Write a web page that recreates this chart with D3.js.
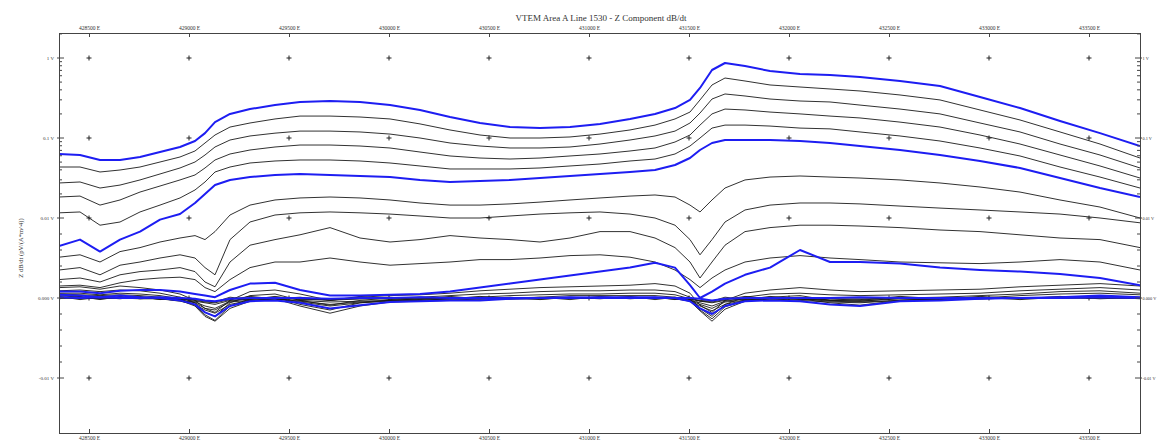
<!DOCTYPE html>
<meta charset="utf-8">
<style>
body { margin: 0; background: #fff; }
svg text { font-family: "Liberation Serif", "DejaVu Serif", serif; fill: #333; }
.frame { fill: none; stroke: #444; stroke-width: 1; }
.tick line, .ytick { stroke: #444; }
.ch { fill: none; stroke-linejoin: round; }
</style>
<svg width="1157" height="442"></svg>
<script src="https://d3js.org/d3.v7.min.js"></script>
<script>
// easting of each reading along the line (m)
var eastings = [428350,428455,428555,428655,428755,428855,428955,429030,429080,429130,429205,429305,429430,429555,429705,429855,430005,430155,430305,430455,430605,430755,430905,431055,431205,431330,431430,431505,431555,431615,431680,431780,431905,432055,432205,432355,432555,432755,432955,433155,433355,433555,433755];

var xTicks = [428500,429000,429500,430000,430500,431000,431500,432000,432500,433000,433500];
var yTicks = [1, 0.1, 0.01, 0, -0.01];
var yTickLabels = ["1 V", "0.1 V", "0.01 V", "0.000 V", "-0.01 V"];

// dB/dt decay channels, early to late
var ch0 = [0.0631,0.0613,0.0531,0.0531,0.0579,0.0668,0.0772,0.0917,0.115,0.158,0.200,0.230,0.258,0.282,0.290,0.282,0.258,0.224,0.183,0.154,0.137,0.133,0.137,0.150,0.173,0.200,0.237,0.299,0.422,0.708,0.866,0.794,0.688,0.631,0.613,0.579,0.516,0.447,0.325,0.237,0.163,0.115,0.0794];
var ch1 = [0.0434,0.0434,0.0376,0.0398,0.0434,0.0501,0.0579,0.0688,0.0866,0.109,0.137,0.154,0.173,0.188,0.188,0.183,0.173,0.150,0.126,0.109,0.100,0.100,0.103,0.112,0.126,0.145,0.173,0.211,0.299,0.460,0.562,0.516,0.460,0.434,0.410,0.387,0.345,0.299,0.224,0.168,0.119,0.0841,0.0562];
var ch2 = [0.0274,0.0282,0.0237,0.0258,0.0299,0.0355,0.0422,0.0501,0.0613,0.0772,0.0944,0.106,0.115,0.122,0.122,0.119,0.112,0.100,0.0866,0.0794,0.0750,0.0750,0.0772,0.0841,0.0944,0.106,0.122,0.154,0.205,0.307,0.355,0.335,0.307,0.290,0.282,0.258,0.230,0.200,0.154,0.119,0.0841,0.0613,0.0422];
var ch3 = [0.0183,0.0188,0.0145,0.0168,0.0211,0.0251,0.0299,0.0345,0.0422,0.0531,0.0631,0.0708,0.0772,0.0817,0.0817,0.0794,0.0750,0.0668,0.0596,0.0562,0.0546,0.0562,0.0596,0.0631,0.0688,0.0750,0.0891,0.109,0.145,0.200,0.230,0.224,0.211,0.200,0.188,0.178,0.158,0.137,0.109,0.0841,0.0613,0.0447,0.0316];
var ch4 = [0.0116,0.0119,0.0091,0.0095,0.0119,0.0145,0.0178,0.0224,0.0282,0.0376,0.0434,0.0487,0.0516,0.0531,0.0531,0.0516,0.0487,0.0447,0.0410,0.0410,0.0410,0.0422,0.0447,0.0473,0.0516,0.0546,0.0631,0.0794,0.100,0.133,0.145,0.145,0.141,0.133,0.130,0.119,0.106,0.0917,0.0750,0.0596,0.0434,0.0325,0.0237];
var ch5 = [0.0065,0.0073,0.0058,0.0073,0.0083,0.0098,0.0112,0.0154,0.0200,0.0258,0.0299,0.0325,0.0345,0.0355,0.0345,0.0335,0.0325,0.0299,0.0282,0.0290,0.0299,0.0316,0.0335,0.0355,0.0376,0.0398,0.0460,0.0562,0.0708,0.0866,0.0944,0.0944,0.0944,0.0917,0.0866,0.0794,0.0708,0.0613,0.0516,0.0422,0.0316,0.0237,0.0183];
var ch6 = [0.0051,0.0054,0.0045,0.0058,0.0063,0.0070,0.0075,0.0078,0.0073,0.0083,0.0109,0.0145,0.0168,0.0178,0.0183,0.0178,0.0168,0.0154,0.0145,0.0145,0.0150,0.0158,0.0168,0.0178,0.0188,0.0194,0.0183,0.0145,0.0119,0.0168,0.0237,0.0299,0.0325,0.0335,0.0325,0.0316,0.0299,0.0274,0.0244,0.0211,0.0168,0.0137,0.0100];
var ch7 = [0.0035,0.0038,0.0029,0.0041,0.0045,0.0050,0.0054,0.0050,0.0038,0.0029,0.0073,0.0095,0.0109,0.0116,0.0119,0.0116,0.0112,0.0106,0.0100,0.0100,0.0106,0.0112,0.0116,0.0119,0.0112,0.0100,0.0091,0.0073,0.0054,0.0073,0.0095,0.0126,0.0145,0.0154,0.0154,0.0150,0.0141,0.0133,0.0126,0.0119,0.0112,0.0100,0.0094];
var ch8 = [0.0023,0.0025,0.0020,0.0029,0.0033,0.0035,0.0038,0.0033,0.0020,0.0014,0.0045,0.0066,0.0073,0.0079,0.0088,0.0075,0.0070,0.0073,0.0078,0.0075,0.0073,0.0070,0.0075,0.0083,0.0083,0.0075,0.0063,0.0045,0.0025,0.0045,0.0066,0.0083,0.0088,0.0091,0.0091,0.0090,0.0088,0.0085,0.0083,0.0079,0.0075,0.0073,0.0063];
var ch9 = [0.0015,0.0016,0.0013,0.0019,0.0023,0.0025,0.0026,0.0023,0.0013,0.0008,0.0023,0.0038,0.0045,0.0045,0.0050,0.0045,0.0041,0.0043,0.0045,0.0048,0.0048,0.0050,0.0053,0.0054,0.0051,0.0045,0.0035,0.0023,0.0013,0.0025,0.0035,0.0045,0.0050,0.0053,0.0050,0.0048,0.0045,0.0044,0.0043,0.0045,0.0048,0.0045,0.0035];
var ch10 = [0.0008,0.0008,0.0006,0.0009,0.0010,0.0010,0.0008,0.0005,0.0003,0.0001,0.0010,0.0018,0.0019,0.0010,0.0003,0.0003,0.0004,0.0005,0.0008,0.0013,0.0018,0.0023,0.0028,0.0033,0.0038,0.0044,0.0038,0.0016,0.0000,0.0008,0.0018,0.0029,0.0038,0.0060,0.0045,0.0045,0.0043,0.0038,0.0035,0.0033,0.0030,0.0025,0.0016];
var ch11 = [0.0013,0.0014,0.0011,0.0015,0.0013,0.0010,0.0005,-0.0003,-0.0013,-0.0018,-0.0003,0.0008,0.0010,0.0005,-0.0003,0.0001,0.0003,0.0004,0.0006,0.0009,0.0011,0.0013,0.0014,0.0015,0.0016,0.0018,0.0015,0.0006,-0.0009,-0.0018,-0.0003,0.0006,0.0010,0.0013,0.0010,0.0008,0.0009,0.0010,0.0011,0.0014,0.0016,0.0018,0.0015];
var ch12 = [0.0009,0.0010,0.0008,0.0010,0.0009,0.0006,0.0001,-0.0006,-0.0018,-0.0023,-0.0006,0.0003,0.0005,-0.0003,-0.0009,-0.0003,0.0000,0.0001,0.0003,0.0005,0.0006,0.0008,0.0009,0.0009,0.0010,0.0010,0.0008,0.0001,-0.0013,-0.0023,-0.0008,0.0001,0.0005,0.0006,0.0004,0.0003,0.0004,0.0005,0.0006,0.0009,0.0011,0.0013,0.0010];
var ch13 = [0.0006,0.0006,0.0004,0.0006,0.0005,0.0003,-0.0001,-0.0009,-0.0021,-0.0028,-0.0010,-0.0001,0.0001,-0.0008,-0.0015,-0.0006,-0.0003,-0.0001,0.0000,0.0001,0.0003,0.0004,0.0005,0.0005,0.0006,0.0006,0.0004,-0.0001,-0.0015,-0.0026,-0.0011,-0.0003,0.0001,0.0003,-0.0003,-0.0004,0.0000,0.0001,0.0003,0.0005,0.0008,0.0009,0.0006];
var ch14 = [0.0005,0.0004,0.0003,0.0004,0.0003,0.0001,-0.0003,-0.0010,-0.0023,-0.0029,-0.0013,-0.0004,-0.0001,-0.0010,-0.0019,-0.0010,-0.0005,-0.0004,-0.0003,-0.0001,0.0000,0.0001,0.0003,0.0003,0.0003,0.0003,0.0001,-0.0004,-0.0016,-0.0029,-0.0014,-0.0004,-0.0001,-0.0001,-0.0006,-0.0009,-0.0003,-0.0001,0.0000,0.0003,0.0005,0.0006,0.0004];
var ch15 = [0.0004,0.0003,0.0001,0.0003,0.0001,0.0000,-0.0003,-0.0008,-0.0018,-0.0023,-0.0010,-0.0004,-0.0003,-0.0006,-0.0013,-0.0009,-0.0005,-0.0004,-0.0003,-0.0003,-0.0001,0.0000,0.0000,0.0001,0.0001,0.0001,0.0000,-0.0004,-0.0013,-0.0020,-0.0010,-0.0004,-0.0003,-0.0004,-0.0008,-0.0010,-0.0004,-0.0003,-0.0001,0.0000,0.0001,0.0003,0.0001];
var ch16 = [0.0003,0.0001,0,0.0001,0,-0.0001,-0.0004,-0.0008,-0.0015,-0.0019,-0.0008,-0.0003,-0.0001,-0.0005,-0.0010,-0.0006,-0.0004,-0.0003,-0.0001,-0.0001,-0.0001,0,0,0,0,0,-0.0001,-0.0004,-0.0010,-0.0016,-0.0008,-0.0003,-0.0001,-0.0003,-0.0005,-0.0006,-0.0003,-0.0001,-0.0001,0,0.0001,0.0001,0];
var ch17 = [0.0001,0.0001,0,0,0,-0.0001,-0.0003,-0.0006,-0.0013,-0.0015,-0.0005,-0.0003,-0.0001,-0.0004,-0.0008,-0.0005,-0.0003,-0.0003,-0.0001,-0.0001,-0.0001,-0.0001,0,0,0,0,-0.0001,-0.0003,-0.0008,-0.0013,-0.0005,-0.0003,-0.0001,-0.0001,-0.0004,-0.0005,-0.0003,-0.0001,-0.0001,0,0,0.0001,0];
var ch18 = [0,0,-0.0001,0,-0.0001,-0.0001,-0.0003,-0.0005,-0.0010,-0.0013,-0.0004,-0.0001,-0.0001,-0.0003,-0.0005,-0.0004,-0.0003,-0.0001,-0.0001,-0.0001,-0.0001,-0.0001,0,0,0,0,-0.0001,-0.0003,-0.0006,-0.0010,-0.0004,-0.0001,-0.0001,-0.0001,-0.0003,-0.0004,-0.0001,-0.0001,-0.0001,0,0,0,0];
var ch19 = [0,0,0,0,0,-0.0001,-0.0001,-0.0004,-0.0006,-0.0008,-0.0003,-0.0001,0,-0.0001,-0.0003,-0.0001,-0.0001,-0.0001,-0.0001,0,0,0,0,0,0,0,0,-0.0001,-0.0004,-0.0006,-0.0003,-0.0001,0,0,-0.0001,-0.0001,-0.0001,0,0,0,0,0,0];
var ch20 = [0.0001,0,0.0001,0,0,0.0001,0,-0.0001,-0.0003,-0.0004,-0.0001,0,0,0,-0.0001,0,0,0.0001,0,0,0,0,0.0001,0,0,0,0,0,-0.0001,-0.0003,-0.0001,0,0,0,0,0.0001,0,0,0,0,0,0.0001,0];
var ch21 = [0.0002,-0.0002,0.0001,-0.0001,0.0002,-0.0002,0.0001,-0.0003,-0.0005,-0.0006,-0.0002,0.0002,-0.0001,0.0001,-0.0003,0.0002,-0.0002,0.0001,-0.0001,0.0002,-0.0001,0.0001,-0.0002,0.0002,-0.0001,0.0001,-0.0002,0.0001,-0.0004,-0.0005,-0.0002,0.0002,-0.0001,0.0001,-0.0003,-0.0002,0.0001,-0.0002,0.0002,-0.0001,0.0002,-0.0001,0.0001];
var ch22 = [-0.0001,0.0002,-0.0002,0.0002,-0.0001,0.0001,-0.0002,-0.0002,-0.0004,-0.0005,0.0001,-0.0002,0.0002,-0.0002,-0.0002,-0.0001,0.0001,-0.0002,0.0002,-0.0001,0.0001,-0.0002,0.0001,-0.0001,0.0002,-0.0002,0.0001,-0.0002,-0.0003,-0.0004,0.0001,-0.0002,0.0002,-0.0002,-0.0001,-0.0003,0.0002,-0.0001,0.0001,-0.0002,0.0001,0.0002,-0.0001];

var channels = [ch0,ch1,ch2,ch3,ch4,ch5,ch6,ch7,ch8,ch9,ch10,ch11,ch12,ch13,ch14,ch15,ch16,ch17,ch18,ch19,ch20,ch21,ch22];
var blueChannels = [0, 5, 10, 15, 20];

var svg = d3.select("svg"),
    plotL = 59, plotR = 1140, plotT = 33, plotB = 433,
    zeroY = 298, decade = 80;

var x = d3.scaleLinear().domain([428350, 433755]).range([plotL, plotR]);

// log-linear vertical scale: linear within +/-0.01 V, logarithmic above
var yLog = d3.scaleLog().domain([0.01, 1]).range([zeroY - decade, zeroY - 3 * decade]);
var yLin = d3.scaleLinear().domain([-0.01, 0.01]).range([zeroY + decade, zeroY - decade]);
function y(v) { return v > 0.01 ? yLog(v) : yLin(v); }

svg.append("defs").append("clipPath").attr("id", "plot")
  .append("rect").attr("x", plotL).attr("y", plotT).attr("width", plotR - plotL).attr("height", plotB - plotT);

// grid crosses
var crosses = [];
xTicks.forEach(function(e) { yTicks.forEach(function(v) { crosses.push([e, v]); }); });
var cr = svg.append("g").attr("stroke", "#222").attr("stroke-width", 1);
cr.selectAll("path").data(crosses).enter().append("path")
  .attr("d", function(d) {
    var cx = x(d[0]), cy = y(d[1]);
    return "M" + (cx - 2.5) + "," + cy + "H" + (cx + 2.5) + "M" + cx + "," + (cy - 2.5) + "V" + (cy + 2.5);
  });

var line = d3.line()
  .x(function(d, i) { return x(eastings[i]); })
  .y(function(d) { return y(d); });

var plot = svg.append("g").attr("clip-path", "url(#plot)");
var order = d3.range(channels.length).filter(function(i) { return blueChannels.indexOf(i) < 0; }).concat(blueChannels);
plot.selectAll("path").data(order).enter().append("path")
  .attr("class", "ch")
  .attr("d", function(i) { return line(channels[i]); })
  .attr("stroke", function(i) { return blueChannels.indexOf(i) >= 0 ? "#1d1df2" : "#1a1a1a"; })
  .attr("stroke-width", function(i) { return blueChannels.indexOf(i) >= 0 ? 2 : 0.9; });

// frame
svg.append("rect").attr("class", "frame")
  .attr("x", plotL + 0.5).attr("y", plotT + 0.5).attr("width", plotR - plotL).attr("height", plotB - plotT);

// top and bottom easting axes
function styleAxis(g) {
  g.select(".domain").remove();
  g.selectAll("text").attr("font-size", 5.5).attr("font-family", "Liberation Serif, serif").attr("fill", "#333");
  g.selectAll("line").attr("stroke", "#444");
}
svg.append("g").attr("transform", "translate(0," + plotT + ")")
  .call(d3.axisTop(x).tickValues(xTicks).tickSizeInner(-4).tickSizeOuter(0).tickPadding(3)
    .tickFormat(function(d) { return d + " E"; }))
  .call(styleAxis);
svg.append("g").attr("transform", "translate(0," + plotB + ")")
  .call(d3.axisBottom(x).tickValues(xTicks).tickSizeInner(-4).tickSizeOuter(0).tickPadding(3)
    .tickFormat(function(d) { return d + " E"; }))
  .call(styleAxis);

// vertical axes, both sides
var minor = d3.range(0.002, 0.0095, 0.002)
  .concat(d3.range(-0.008, -0.001, 0.002))
  .concat(d3.range(2, 10).map(function(k) { return k * 0.01; }))
  .concat(d3.range(2, 10).map(function(k) { return k * 0.1; }))
  .concat([2]);
var yax = svg.append("g");
[plotL, plotR].forEach(function(ax) {
  var isLeft = ax === plotL, dir = isLeft ? 1 : -1;
  yax.append("g").selectAll("line").data(yTicks).enter().append("line")
    .attr("class", "ytick")
    .attr("x1", ax - 2 * dir).attr("x2", ax + 5 * dir)
    .attr("y1", function(d) { return y(d); }).attr("y2", function(d) { return y(d); });
  yax.append("g").selectAll("line").data(minor.filter(function(v) { return y(v) > plotT; })).enter().append("line")
    .attr("class", "ytick")
    .attr("x1", ax).attr("x2", ax + 3 * dir)
    .attr("y1", function(d) { return y(d); }).attr("y2", function(d) { return y(d); });
  yax.append("g").selectAll("text").data(yTicks).enter().append("text")
    .attr("x", isLeft ? ax - 5 : ax + 2.5)
    .attr("y", function(d) { return y(d); })
    .attr("dy", "0.35em")
    .attr("text-anchor", isLeft ? "end" : "start")
    .attr("font-size", isLeft ? 5 : 4.3)
    .text(function(d, i) { return yTickLabels[i]; });
});

svg.append("text")
  .attr("x", 601).attr("y", 21)
  .attr("text-anchor", "middle")
  .attr("font-size", 9)
  .text("VTEM Area A Line 1530 - Z Component dB/dt");

svg.append("text")
  .attr("transform", "translate(23,248) rotate(-90)")
  .attr("text-anchor", "middle")
  .attr("font-size", 6.5)
  .text("Z dB/dt (pV/(A*m^4))");
</script>
